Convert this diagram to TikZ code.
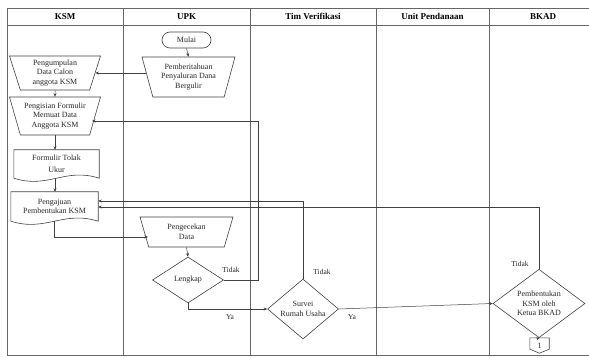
\documentclass[tikz,border=0pt]{standalone}
\usepackage{fontspec}
\setmainfont{Liberation Serif}
\usetikzlibrary{shapes.geometric,arrows.meta,calc}
\begin{document}
\begin{tikzpicture}[x=1pt,y=-1pt,
  lane/.style={draw=black!60, line width=0.6pt},
  hdr/.style={font=\fontsize{9}{10}\selectfont\bfseries, inner sep=0pt},
  shpline/.style={draw=black!75, line width=0.6pt},
  shp/.style={shpline, align=center, font=\fontsize{8}{9.5}\selectfont, inner sep=1pt, text=black!85},
  txtbox/.style={align=center, font=\fontsize{8}{9.5}\selectfont, inner sep=1pt, text=black!85},
  trap/.style={shp, trapezium, trapezium stretches body, shape border rotate=180},
  dia/.style={shp, diamond, inner sep=0pt},
  arr/.style={draw=black!75, line width=0.5pt, -{Stealth[length=3.5pt,width=3pt]}},
  lbl/.style={font=\fontsize{7.5}{8}\selectfont, inner sep=0pt, text=black!85}
]
\useasboundingbox (0,0) rectangle (589,358);
\newcommand\docoutline[1]{\draw[shpline] (#1.south west) -- (#1.north west) -- (#1.north east) -- (#1.south east) .. controls ($(#1.south east)!0.4!(#1.south west)+(0,-11)$) and ($(#1.south east)!0.6!(#1.south west)+(0,11)$) .. (#1.south west);}

% swimlanes
\draw[lane] (7,8) -- (589,8);
\draw[lane] (7,25) -- (589,25);
\draw[lane] (7,355) -- (589,355);
\foreach \xx in {7,123,250,376,489} \draw[lane] (\xx,8) -- (\xx,355);
\node[hdr] (h1) at (65,16.5) {KSM};
\node[hdr] (h2) at (186.5,16.5) {UPK};
\node[hdr] (h3) at (313,16.5) {Tim Verifikasi};
\node[hdr] (h4) at (432.5,16.5) {Unit Pendanaan};
\node[hdr] (h5) at (543,16.5) {BKAD};

% nodes
\node[shp, rounded corners=8pt, minimum width=49pt, minimum height=16pt] (mul) at (186.5,40) {Mulai};
\node[trap, trapezium left angle=69, trapezium right angle=69, minimum width=93pt, minimum height=40pt] (pem) at (188.5,77) {Pemberitahuan\\Penyaluran Dana\\Bergulir};
\node[trap, trapezium left angle=69, trapezium right angle=69, minimum width=91pt, minimum height=34pt] (pgm) at (55,73) {Pengumpulan\\Data Calon\\anggota KSM};
\node[trap, trapezium left angle=69, trapezium right angle=69, minimum width=91pt, minimum height=38pt] (pis) at (55,116) {Pengisian Formulir\\Memuat Data\\Anggota KSM};
\node[txtbox, minimum width=85pt, minimum height=28pt] (frm) at (56.5,164) {Formulir Tolak\\[2pt]Ukur};
\docoutline{frm}
\node[txtbox, minimum width=87pt, minimum height=29pt] (pgj) at (54.5,206.5) {Pengajuan\\Pembentukan KSM};
\docoutline{pgj}
\node[trap, trapezium left angle=63, trapezium right angle=63, minimum width=93pt, minimum height=30pt] (pck) at (186.5,232) {Pengecekan\\Data};
\node[dia, minimum width=71pt, minimum height=46pt] (lkp) at (188,280) {Lengkap};
\node[dia, minimum width=71pt, minimum height=52pt] (srv) at (303,309) {Survei\\Rumah Usaha};
\node[dia, minimum width=92pt, minimum height=57pt] (bkd) at (539,303.5) {Pembentukan\\KSM oleh\\Ketua BKAD};
\node[txtbox, minimum width=19pt, minimum height=15pt, inner sep=0pt] (cn) at (539.5,345.5) {1};
\draw[shpline] (cn.north west) -- (cn.north east) -- ($(cn.south east)+(0,-4)$) -- (cn.south) -- ($(cn.south west)+(0,-4)$) -- cycle;

% connectors
\draw[arr] (mul.south) -- (pem.north);
\draw[arr] ([xshift=-1.5pt]pem.west |- pgm.east) -- (pgm.east);
\draw[arr] (pgm.south) -- (pis.north);
\draw[arr] (pis.south) -- (pis.south |- frm.north);
\draw[arr] (pis.south |- frm.south) -- (pis.south |- pgj.north);
\coordinate (pckin) at (148,237);
\draw[arr] (pgj.south) |- (pckin);
\draw[arr] (pck.south) -- (lkp.north);
\coordinate (t1) at (258,121);
\coordinate (pisin) at (92,121);
\draw[arr] (lkp.east) -| (t1) -- (pisin);
\draw[arr] (lkp.south) |- (srv.west);
\coordinate (t2) at (0,201);
\draw[arr] (srv.north) |- (pgj.east |- t2);
\draw[arr] (srv.east) -- (bkd.west);
\coordinate (t3) at (0,207);
\draw[arr] (bkd.north) |- (pgj.east |- t3);
\draw[arr] (bkd.south) -- (cn.north);

% labels
\node[lbl] (l1) at (231,270) {Tidak};
\node[lbl] (l2) at (230,317) {Ya};
\node[lbl] (l3) at (322,272) {Tidak};
\node[lbl] (l4) at (352,317) {Ya};
\node[lbl] (l5) at (520,264) {Tidak};
\end{tikzpicture}
\end{document}
